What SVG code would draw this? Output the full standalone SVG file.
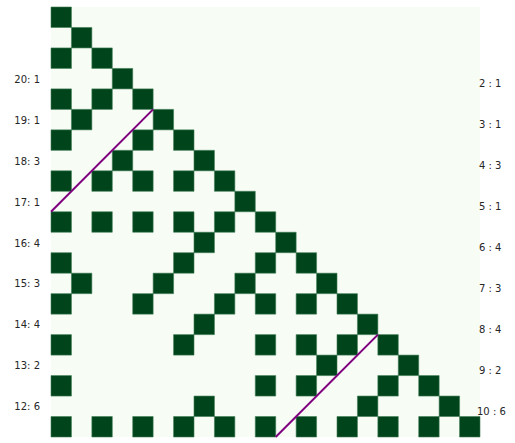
<svg xmlns="http://www.w3.org/2000/svg" width="515" height="443" viewBox="0 0 515 443">
<style>
.bg{fill:#f7fcf5}
.c{fill:#00441b;stroke:#3f7d55;stroke-width:0.6}
.l{font-family:"DejaVu Sans",sans-serif;font-size:10px;fill:#262626}
.ln{stroke:#800080;stroke-width:2;fill:none}
</style>
<rect class="bg" x="51" y="7" width="429" height="430"/>
<g id="grid" transform="translate(51 7) scale(20.4286 20.4762)">
<g id="r0"><rect class="c" vector-effect="non-scaling-stroke" x="0" y="0" width="1" height="1"/></g>
<g id="r1"><rect class="c" vector-effect="non-scaling-stroke" x="1" y="1" width="1" height="1"/></g>
<g id="r2"><rect class="c" vector-effect="non-scaling-stroke" x="0" y="2" width="1" height="1"/><rect class="c" vector-effect="non-scaling-stroke" x="2" y="2" width="1" height="1"/></g>
<g id="r3"><rect class="c" vector-effect="non-scaling-stroke" x="3" y="3" width="1" height="1"/></g>
<g id="r4"><rect class="c" vector-effect="non-scaling-stroke" x="0" y="4" width="1" height="1"/><rect class="c" vector-effect="non-scaling-stroke" x="2" y="4" width="1" height="1"/><rect class="c" vector-effect="non-scaling-stroke" x="4" y="4" width="1" height="1"/></g>
<g id="r5"><rect class="c" vector-effect="non-scaling-stroke" x="1" y="5" width="1" height="1"/><rect class="c" vector-effect="non-scaling-stroke" x="5" y="5" width="1" height="1"/></g>
<g id="r6"><rect class="c" vector-effect="non-scaling-stroke" x="0" y="6" width="1" height="1"/><rect class="c" vector-effect="non-scaling-stroke" x="4" y="6" width="1" height="1"/><rect class="c" vector-effect="non-scaling-stroke" x="6" y="6" width="1" height="1"/></g>
<g id="r7"><rect class="c" vector-effect="non-scaling-stroke" x="3" y="7" width="1" height="1"/><rect class="c" vector-effect="non-scaling-stroke" x="7" y="7" width="1" height="1"/></g>
<g id="r8"><rect class="c" vector-effect="non-scaling-stroke" x="0" y="8" width="1" height="1"/><rect class="c" vector-effect="non-scaling-stroke" x="2" y="8" width="1" height="1"/><rect class="c" vector-effect="non-scaling-stroke" x="4" y="8" width="1" height="1"/><rect class="c" vector-effect="non-scaling-stroke" x="6" y="8" width="1" height="1"/><rect class="c" vector-effect="non-scaling-stroke" x="8" y="8" width="1" height="1"/></g>
<g id="r9"><rect class="c" vector-effect="non-scaling-stroke" x="9" y="9" width="1" height="1"/></g>
<g id="r10"><rect class="c" vector-effect="non-scaling-stroke" x="0" y="10" width="1" height="1"/><rect class="c" vector-effect="non-scaling-stroke" x="2" y="10" width="1" height="1"/><rect class="c" vector-effect="non-scaling-stroke" x="4" y="10" width="1" height="1"/><rect class="c" vector-effect="non-scaling-stroke" x="6" y="10" width="1" height="1"/><rect class="c" vector-effect="non-scaling-stroke" x="8" y="10" width="1" height="1"/><rect class="c" vector-effect="non-scaling-stroke" x="10" y="10" width="1" height="1"/></g>
<g id="r11"><rect class="c" vector-effect="non-scaling-stroke" x="7" y="11" width="1" height="1"/><rect class="c" vector-effect="non-scaling-stroke" x="11" y="11" width="1" height="1"/></g>
<g id="r12"><rect class="c" vector-effect="non-scaling-stroke" x="0" y="12" width="1" height="1"/><rect class="c" vector-effect="non-scaling-stroke" x="6" y="12" width="1" height="1"/><rect class="c" vector-effect="non-scaling-stroke" x="10" y="12" width="1" height="1"/><rect class="c" vector-effect="non-scaling-stroke" x="12" y="12" width="1" height="1"/></g>
<g id="r13"><rect class="c" vector-effect="non-scaling-stroke" x="1" y="13" width="1" height="1"/><rect class="c" vector-effect="non-scaling-stroke" x="5" y="13" width="1" height="1"/><rect class="c" vector-effect="non-scaling-stroke" x="9" y="13" width="1" height="1"/><rect class="c" vector-effect="non-scaling-stroke" x="13" y="13" width="1" height="1"/></g>
<g id="r14"><rect class="c" vector-effect="non-scaling-stroke" x="0" y="14" width="1" height="1"/><rect class="c" vector-effect="non-scaling-stroke" x="4" y="14" width="1" height="1"/><rect class="c" vector-effect="non-scaling-stroke" x="8" y="14" width="1" height="1"/><rect class="c" vector-effect="non-scaling-stroke" x="10" y="14" width="1" height="1"/><rect class="c" vector-effect="non-scaling-stroke" x="12" y="14" width="1" height="1"/><rect class="c" vector-effect="non-scaling-stroke" x="14" y="14" width="1" height="1"/></g>
<g id="r15"><rect class="c" vector-effect="non-scaling-stroke" x="7" y="15" width="1" height="1"/><rect class="c" vector-effect="non-scaling-stroke" x="15" y="15" width="1" height="1"/></g>
<g id="r16"><rect class="c" vector-effect="non-scaling-stroke" x="0" y="16" width="1" height="1"/><rect class="c" vector-effect="non-scaling-stroke" x="6" y="16" width="1" height="1"/><rect class="c" vector-effect="non-scaling-stroke" x="10" y="16" width="1" height="1"/><rect class="c" vector-effect="non-scaling-stroke" x="12" y="16" width="1" height="1"/><rect class="c" vector-effect="non-scaling-stroke" x="14" y="16" width="1" height="1"/><rect class="c" vector-effect="non-scaling-stroke" x="16" y="16" width="1" height="1"/></g>
<g id="r17"><rect class="c" vector-effect="non-scaling-stroke" x="13" y="17" width="1" height="1"/><rect class="c" vector-effect="non-scaling-stroke" x="17" y="17" width="1" height="1"/></g>
<g id="r18"><rect class="c" vector-effect="non-scaling-stroke" x="0" y="18" width="1" height="1"/><rect class="c" vector-effect="non-scaling-stroke" x="10" y="18" width="1" height="1"/><rect class="c" vector-effect="non-scaling-stroke" x="12" y="18" width="1" height="1"/><rect class="c" vector-effect="non-scaling-stroke" x="16" y="18" width="1" height="1"/><rect class="c" vector-effect="non-scaling-stroke" x="18" y="18" width="1" height="1"/></g>
<g id="r19"><rect class="c" vector-effect="non-scaling-stroke" x="7" y="19" width="1" height="1"/><rect class="c" vector-effect="non-scaling-stroke" x="15" y="19" width="1" height="1"/><rect class="c" vector-effect="non-scaling-stroke" x="19" y="19" width="1" height="1"/></g>
<g id="r20"><rect class="c" vector-effect="non-scaling-stroke" x="0" y="20" width="1" height="1"/><rect class="c" vector-effect="non-scaling-stroke" x="2" y="20" width="1" height="1"/><rect class="c" vector-effect="non-scaling-stroke" x="4" y="20" width="1" height="1"/><rect class="c" vector-effect="non-scaling-stroke" x="6" y="20" width="1" height="1"/><rect class="c" vector-effect="non-scaling-stroke" x="8" y="20" width="1" height="1"/><rect class="c" vector-effect="non-scaling-stroke" x="10" y="20" width="1" height="1"/><rect class="c" vector-effect="non-scaling-stroke" x="12" y="20" width="1" height="1"/><rect class="c" vector-effect="non-scaling-stroke" x="14" y="20" width="1" height="1"/><rect class="c" vector-effect="non-scaling-stroke" x="16" y="20" width="1" height="1"/><rect class="c" vector-effect="non-scaling-stroke" x="18" y="20" width="1" height="1"/><rect class="c" vector-effect="non-scaling-stroke" x="20" y="20" width="1" height="1"/></g>
</g>
<g id="lines">
<line class="ln" x1="51" y1="211.8" x2="153.1" y2="109.4"/>
<line class="ln" x1="275.7" y1="437" x2="377.9" y2="334.6"/>
</g>
<g id="labels-left" class="l" text-anchor="end">
<text x="40" y="82.7">20: 1</text>
<text x="40" y="123.6">19: 1</text>
<text x="40" y="164.6">18: 3</text>
<text x="40" y="205.5">17: 1</text>
<text x="40" y="246.5">16: 4</text>
<text x="40" y="287.4">15: 3</text>
<text x="40" y="328.4">14: 4</text>
<text x="40" y="369.3">13: 2</text>
<text x="40" y="410.3">12: 6</text>
</g>
<g id="labels-right" class="l">
<text x="479" y="86.9">2 : 1</text>
<text x="479" y="127.8">3 : 1</text>
<text x="479" y="168.8">4 : 3</text>
<text x="479" y="209.7">5 : 1</text>
<text x="479" y="250.7">6 : 4</text>
<text x="479" y="291.6">7 : 3</text>
<text x="479" y="332.6">8 : 4</text>
<text x="479" y="373.5">9 : 2</text>
<text x="477" y="414.5">10 : 6</text>
</g>
</svg>
